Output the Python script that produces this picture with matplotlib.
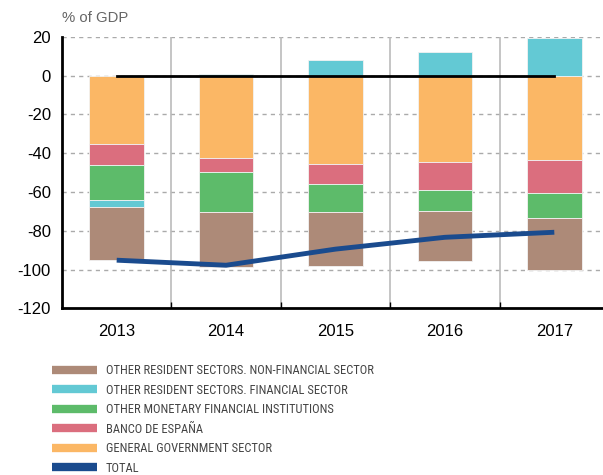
import numpy as np
import matplotlib
matplotlib.use('Agg')
import matplotlib.pyplot as plt
from matplotlib.lines import Line2D

plt.rcParams['font.family'] = ['Liberation Sans', 'DejaVu Sans']
plt.rcParams['axes.unicode_minus'] = False

# Data (% of GDP)
years = ['2013', '2014', '2015', '2016', '2017']
non_financial = [-27.0, -28.5, -27.5, -25.6, -26.6]
financial = [-3.7, 0.8, 8.0, 12.0, 19.5]
other_mfi = [-18.3, -20.6, -14.5, -10.9, -12.9]
banco_espana = [-10.6, -7.2, -10.4, -14.6, -17.2]
general_gov = [-35.3, -42.5, -45.6, -44.5, -43.5]
total = [-95.2, -97.8, -89.5, -83.4, -80.8]

labels = ['OTHER RESIDENT SECTORS. NON-FINANCIAL SECTOR',
          'OTHER RESIDENT SECTORS. FINANCIAL SECTOR',
          'OTHER MONETARY FINANCIAL INSTITUTIONS',
          'BANCO DE ESPAÑA',
          'GENERAL GOVERNMENT SECTOR',
          'TOTAL']
colors = ['#ad8a78', '#63c9d4', '#5dbb6a', '#db6e7e', '#fbb765', '#1a4b8e']

fig = plt.figure(figsize=(6.03, 4.75), dpi=100)
ax = fig.add_axes([62 / 603, 1 - 308.3 / 475, 547 / 603, (308.3 - 36.7) / 475])

x = np.arange(len(years))
width = 0.5

# stack from zero outwards: general government first, then BdE, MFI, financial, non-financial
neg_base = np.zeros(len(years))
pos_base = np.zeros(len(years))
stack_order = [(general_gov, 4), (banco_espana, 3), (other_mfi, 2), (financial, 1), (non_financial, 0)]
for series, ci in stack_order:
    vals = np.array(series)
    bottoms = np.where(vals < 0, neg_base, pos_base)
    ax.bar(x, vals, width, bottom=bottoms, color=colors[ci], edgecolor='#f2f2f2',
           linewidth=0.6, zorder=3)
    neg_base = neg_base + np.where(vals < 0, vals, 0)
    pos_base = pos_base + np.where(vals > 0, vals, 0)

ax.plot(x, np.zeros(len(years)), color='black', linewidth=2, zorder=4)
ax.plot(x, total, color=colors[5], linewidth=3.5, zorder=5, solid_capstyle='butt')

ax.set_xlim(-0.5, 4.5)
ax.set_ylim(-120, 20)
ax.set_yticks(np.arange(-120, 21, 20))
ax.set_xticks(x)
ax.set_xticklabels(years)
ax.set_xticks(np.arange(0.5, 4.5, 1), minor=True)
ax.tick_params(axis='both', which='major', length=0, labelsize=12, pad=8)
ax.tick_params(axis='x', which='major', pad=11)
ax.tick_params(axis='x', which='minor', direction='in', length=4, width=1, color='black')

for yv in range(-100, 21, 20):
    ax.axhline(yv, color='#aaaaaa', linestyle=(0, (3, 3)), linewidth=1, zorder=1)
ax.grid(True, axis='x', which='minor', color='#bbbbbb', linewidth=1.2, zorder=1)

for side in ['top', 'right']:
    ax.spines[side].set_visible(False)
for side in ['left', 'bottom']:
    ax.spines[side].set_linewidth(2)
    ax.spines[side].set_color('black')

fig.text(62 / 603, 1 - 18 / 475, '% of GDP', fontsize=10.7, color='#666666', va='center', ha='left')

handles = [Line2D([], [], color=c, linewidth=6, solid_capstyle='butt') for c in colors]
leg = fig.legend(handles, labels, loc='upper left', bbox_to_anchor=(46 / 603, 1 - 358 / 475),
                 frameon=False, handlelength=3.6, handletextpad=0.7,
                 labelspacing=0.52, borderpad=0,
                 prop={'family': ['Liberation Sans Narrow', 'Roboto Condensed', 'Open Sans Condensed',
                                  'Liberation Sans', 'DejaVu Sans'], 'size': 9})
for t in leg.get_texts():
    t.set_color('#444444')

fig.savefig('out.png', dpi=100)
